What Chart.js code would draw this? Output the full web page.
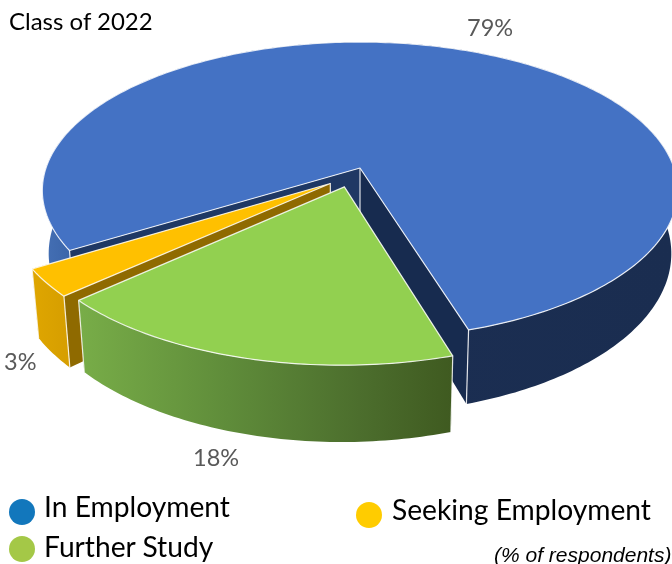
<!DOCTYPE html>
<html>
<head>
<meta charset="utf-8">
<script src="https://cdn.jsdelivr.net/npm/chart.js@4"></script>
<style>
    html, body { margin: 0; padding: 0; background: #fff; }
    .wrap { position: relative; width: 672px; height: 564px; overflow: hidden; font-family: Lato, sans-serif; }
    canvas { position: absolute; left: 0; top: 0; }
    .txt { position: absolute; white-space: nowrap; line-height: 1; }
    .title { left: 9px; top: 9px; font-size: 24px; color: #000; }
    .pct { font-size: 23.5px; color: #595959; }
    .pct0 { left: 467px; top: 16px; }
    .pct1 { left: 193px; top: 446px; }
    .pct2 { left: 4px; top: 350px; }
    .dot { position: absolute; width: 26px; height: 26px; border-radius: 50%; }
    .leg { font-size: 28.2px; color: #000; }
    .note { left: 494px; top: 543px; font: italic 21px "Liberation Sans", sans-serif; color: #000; }
</style>
</head>
<body>
<div class="wrap">
    <canvas id="pie" width="672" height="564"></canvas>
    <div class="txt title">Class of 2022</div>
    <div class="txt pct pct0" id="pct0"></div>
    <div class="txt pct pct1" id="pct1"></div>
    <div class="txt pct pct2" id="pct2"></div>
    <div class="dot" style="left:9px;top:499px;background:#1277bc"></div>
    <div class="txt leg" style="left:44px;top:492px" id="leg0"></div>
    <div class="dot" style="left:9px;top:536px;background:#a4c847"></div>
    <div class="txt leg" style="left:44px;top:532px" id="leg1"></div>
    <div class="dot" style="left:356px;top:502px;background:#ffcc00"></div>
    <div class="txt leg" style="left:392px;top:495px" id="leg2"></div>
    <div class="txt note">(% of respondents)</div>
</div>
<script>
const categories = ['In Employment', 'Further Study', 'Seeking Employment']
const shares = [79, 18, 3]

const sliceColors = ['#4472c4', '#92d050', '#ffc000']
const explode = [0, 36, 37]
// slices do not pull out exactly along their middle in the reference
const explodeTurn = [0, 0.1, -0.2]

categories.forEach((name, i) => {
    document.getElementById('leg' + i).textContent = name
    document.getElementById('pct' + i).textContent = shares[i] + '%'
})

// Camera for the tilted disc, fitted to the reference
const CX = 360, CY = 168
const A = 314, B = 145, P = 0.1515

function project(u, v) {
    const w = 1 - P * v
    return { x: CX + A * u / w, y: CY + B * v / w }
}

function lower(pt) {
    return { x: CX + (pt.x - CX) * 0.98, y: pt.y + 61.3 + 0.0787 * (pt.y - CY) }
}

const sideStops = [
    [[0, '#4570b5'], [0.05, '#3a64a8'], [0.55, '#1b2e52'], [1, '#1a2d50']],
    [[0, '#78ad48'], [0.4, '#5f8c3a'], [0.75, '#4c6e2d'], [1, '#3f5a20']],
    [[0, '#dfa600'], [1, '#d79f00']]
]
const startWall = ['#1f3864', '#3f5a20', '#8f6a00']
const endWall = ['#172b4f', '#3f5a20', '#8a6700']
const edgeColor = 'rgba(255,255,255,0.85)'

function fillPoly(ctx, pts, fill) {
    ctx.beginPath()
    pts.forEach((p, i) => i ? ctx.lineTo(p.x, p.y) : ctx.moveTo(p.x, p.y))
    ctx.closePath()
    ctx.fillStyle = fill
    ctx.fill()
}

function strokeLine(ctx, a, b) {
    ctx.beginPath()
    ctx.moveTo(a.x, a.y)
    ctx.lineTo(b.x, b.y)
    ctx.stroke()
}

function drawSlice(ctx, arc, i) {
    const mid = (arc.startAngle + arc.endAngle) / 2 + explodeTurn[i]
    const d = arc.options.offset / arc.outerRadius
    const du = Math.cos(mid) * d, dv = Math.sin(mid) * d

    const rim = []
    const steps = Math.ceil((arc.endAngle - arc.startAngle) * 60)
    for (let s = 0; s <= steps; s++) {
        const t = arc.startAngle + (arc.endAngle - arc.startAngle) * s / steps
        rim.push(project(Math.cos(t) + du, Math.sin(t) + dv))
    }
    const apex = project(du, dv)
    const first = rim[0], last = rim[rim.length - 1]

    ctx.lineWidth = 1.2
    ctx.strokeStyle = edgeColor
    ctx.lineJoin = 'round'

    // far radial wall, then near one
    if (i === 2) {
        fillPoly(ctx, [apex, last, lower(last), lower(apex)], endWall[i])
        fillPoly(ctx, [apex, first, lower(first), lower(apex)], startWall[i])
    } else {
        fillPoly(ctx, [apex, first, lower(first), lower(apex)], startWall[i])
        fillPoly(ctx, [apex, last, lower(last), lower(apex)], endWall[i])
    }

    // outer wall
    const xs = rim.map(p => p.x)
    const grad = ctx.createLinearGradient(Math.min(...xs), 0, Math.max(...xs), 0)
    sideStops[i].forEach(s => grad.addColorStop(s[0], s[1]))
    fillPoly(ctx, rim.concat(rim.map(lower).reverse()), grad)

    strokeLine(ctx, apex, lower(apex))
    strokeLine(ctx, first, lower(first))
    strokeLine(ctx, last, lower(last))

    // top face
    fillPoly(ctx, [apex].concat(rim), arc.options.backgroundColor)
    ctx.stroke()
}

const tiltedPie = {
    id: 'tiltedPie',
    beforeDatasetsDraw(chart) {
        const arcs = chart.getDatasetMeta(0).data
        const ctx = chart.ctx
        ctx.save();
        [0, 2, 1].forEach(i => drawSlice(ctx, arcs[i], i))
        ctx.restore()
        return false
    }
}

new Chart(document.getElementById('pie'), {
    type: 'pie',
    data: {
        labels: categories,
        datasets: [{
            data: shares,
            backgroundColor: sliceColors,
            offset: explode,
            borderWidth: 0
        }]
    },
    options: {
        responsive: false,
        animation: false,
        rotation: 238.4,
        plugins: {
            legend: { display: false },
            tooltip: { enabled: false }
        }
    },
    plugins: [tiltedPie]
})
</script>
</body>
</html>
